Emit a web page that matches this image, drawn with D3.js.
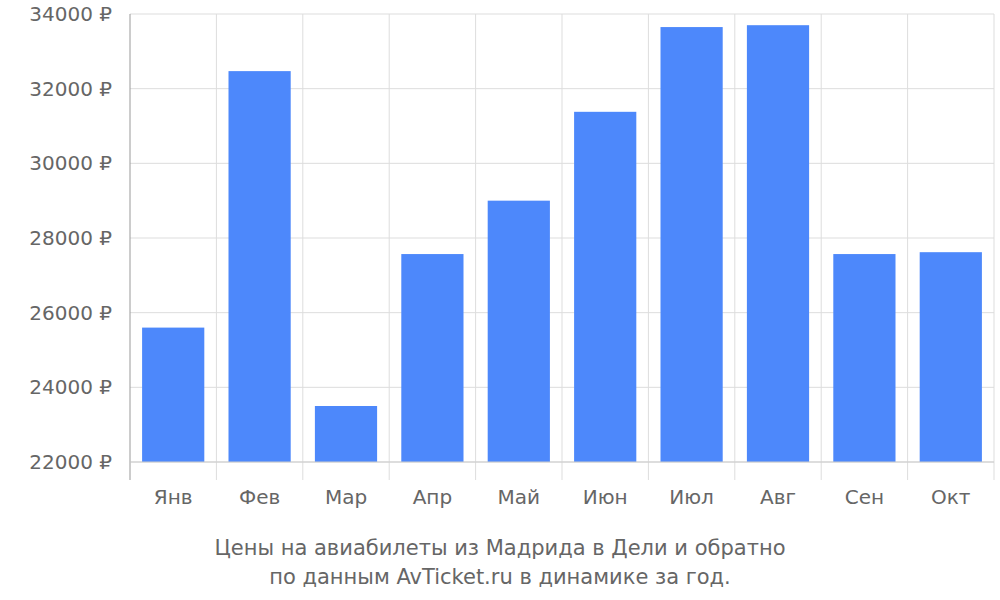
<!DOCTYPE html>
<html><head><meta charset="utf-8">
<script src="https://cdn.jsdelivr.net/npm/d3@7"></script>
<style>body{margin:0;background:#fff}text{font-family:"DejaVu Sans",sans-serif;fill:#666}</style>
</head><body><svg id="c" width="1000" height="600"></svg>
<script>
const categories=["Янв","Фев","Мар","Апр","Май","Июн","Июл","Авг","Сен","Окт"];
const prices=[25600,32470,23500,27570,29000,31380,33650,33700,27570,27620];
const yTicks=[22000,24000,26000,28000,30000,32000,34000];
const title1="Цены на авиабилеты из Мадрида в Дели и обратно";
const title2="по данным AvTicket.ru в динамике за год.";

const svg=d3.select("#c");
const L=130,R=994,T=14,B=462;
const x=d3.scaleBand().domain(categories).range([L,R]).paddingInner(0.28).paddingOuter(0.14);
const xb=d3.scaleBand().domain(categories).range([L,R]);
const y=d3.scaleLinear().domain([22000,34000]).range([B,T]);
const g=svg.append("g");
yTicks.forEach(t=>g.append("line").attr("x1",L).attr("x2",R).attr("y1",y(t)).attr("y2",y(t)).attr("stroke","#ddd"));
categories.forEach((c,i)=>{const xx=xb(c)+(i?0:0);if(i>0)g.append("line").attr("x1",xx).attr("x2",xx).attr("y1",T).attr("y2",480).attr("stroke","#ddd");});
g.append("line").attr("x1",R).attr("x2",R).attr("y1",T).attr("y2",480).attr("stroke","#ddd");
g.selectAll("rect").data(prices).join("rect").attr("x",(d,i)=>x(categories[i])).attr("width",x.bandwidth())
 .attr("y",d=>y(d)).attr("height",d=>B-y(d)).attr("fill","#4d88fb");
g.append("line").attr("x1",L).attr("x2",L).attr("y1",T).attr("y2",480).attr("stroke","#999");
g.append("line").attr("x1",L).attr("x2",R).attr("y1",B).attr("y2",B).attr("stroke","#ccc");
yTicks.forEach(t=>g.append("text").attr("x",L-18).attr("y",y(t)+7).attr("text-anchor","end").attr("font-size",20).text(t+" ₽"));
categories.forEach(c=>g.append("text").attr("x",xb(c)+xb.bandwidth()/2).attr("y",504).attr("text-anchor","middle").attr("font-size",20).text(c));
svg.append("text").attr("x",500).attr("y",555).attr("text-anchor","middle").attr("font-size",21).text(title1);
svg.append("text").attr("x",500).attr("y",584).attr("text-anchor","middle").attr("font-size",21).text(title2);
</script></body></html>
